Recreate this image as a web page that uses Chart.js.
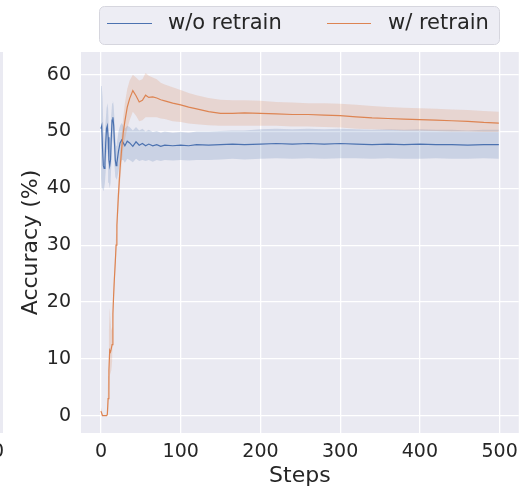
<!DOCTYPE html>
<html>
<head>
<meta charset="utf-8">
<script src="https://cdn.jsdelivr.net/npm/chart.js@4.4.1/dist/chart.umd.min.js"></script>
<style>
  html, body { margin: 0; padding: 0; background: #fff; }
</style>
</head>
<body>
<canvas id="chart" width="526" height="492"></canvas>
<script>
// Steps sampled from the figure (denser where the curves move fast)
const steps = [0, 1, 2, 3, 4, 5, 6, 7, 8, 9, 10, 11, 12, 13, 14, 15, 16, 17, 18, 19, 20,
  22, 24, 26, 28, 30, 33, 36, 40, 44, 48, 52, 56, 60, 65, 70, 75, 80, 90, 100, 110, 120,
  135, 150, 165, 180, 200, 220, 240, 260, 280, 300, 320, 340, 360, 380, 400, 420, 440, 460, 480, 499];

// w/o retrain : mean, lower and upper bound of the band
const woMean = [50.5, 51, 47, 44, 43.5, 44.5, 48, 50.5, 51, 49, 45, 44, 45, 49, 52, 52.5, 51, 48, 45, 44, 44.5,
  46.5, 48, 48.5, 48, 47.5, 48.3, 48.0, 47.4, 48.2, 47.6, 47.9, 47.5, 47.8, 47.5, 47.7, 47.4, 47.6,
  47.5, 47.6, 47.5, 47.7, 47.6, 47.7, 47.8, 47.7,
  47.8, 47.9, 47.8, 47.9, 47.8, 47.9, 47.8, 47.7, 47.8, 47.7, 47.8, 47.7, 47.7, 47.6, 47.7, 47.7];
const woLow = [42, 40, 40, 39.5, 40, 41, 43, 46, 47, 45, 41, 40, 41, 44, 48, 49, 47.5, 44, 42, 41.5, 41.5,
  43, 44.5, 45, 45, 44.5, 45.2, 45, 44.6, 45.2, 44.8, 45, 44.8, 45, 44.7, 45, 44.8, 45,
  44.9, 45, 44.9, 45, 45, 45.1, 45.2, 45.1,
  45.2, 45.3, 45.2, 45.3, 45.2, 45.3, 45.3, 45.2, 45.3, 45.2, 45.2, 45.3, 45.2, 45.2, 45.3, 45.2];
const woHigh = [58, 58, 56, 51, 48, 48, 52, 54, 55, 54, 50, 48.5, 49, 53, 55, 55.5, 54.5, 52, 49, 47.5, 48,
  50, 51, 51.5, 51, 50.5, 51, 50.8, 50.2, 50.8, 50.2, 50.5, 50, 50.3, 49.9, 50.1, 49.8, 50,
  49.8, 49.9, 49.8, 50, 50, 50.1, 50.2, 50.2,
  50.4, 50.5, 50.4, 50.5, 50.4, 50.5, 50.4, 50.3, 50.4, 50.3, 50.4, 50.3, 50.3, 50.2, 50.3, 50.3];

// w/ retrain : mean, lower and upper bound of the band
const wMean = [0.8, 0.4, 0, 0, 0, 0, 0, 0, 0.2, 3, 8, 11.5, 11.2, 11.8, 12.5, 18, 21.5, 24.5, 27, 30, 33.5,
  39, 43.5, 47, 49.8, 51.8, 54.3, 55.8, 57.2, 56.3, 55.2, 55.5, 56.4, 56.0, 56.1, 55.9, 55.6, 55.4,
  55.0, 54.7, 54.3, 54.0, 53.5, 53.2, 53.2, 53.3,
  53.2, 53.1, 53.0, 53.0, 52.9, 52.8, 52.6, 52.4, 52.3, 52.2, 52.1, 52.0, 51.9, 51.8, 51.6, 51.5];
const wLow = [0, 0, 0, 0, 0, 0, 0, 0, 0, 0.5, 4, 7, 7.5, 8, 9.5, 16, 19.5, 22.5, 25, 28, 31,
  36.5, 41, 44.5, 47, 48.5, 50.5, 52, 53.5, 52.8, 51.8, 52, 52.5, 52.5, 52.5, 52.5, 52.3, 52.2,
  51.8, 51.7, 51.4, 51.3, 51.1, 51.0, 51.0, 51.0,
  51.0, 51.0, 50.9, 50.9, 50.8, 50.7, 50.5, 50.4, 50.3, 50.2, 50.2, 50.1, 50.0, 50.0, 49.9, 49.9];
const wHigh = [1.5, 1, 0.3, 0, 0, 0, 0, 0, 0.8, 7, 15, 19, 17, 15, 15.5, 20, 23.5, 26.5, 29, 32, 36,
  41.5, 46, 49.5, 52.5, 55, 57.5, 59, 60, 59.5, 59, 59.2, 60.3, 59.8, 59.5, 59.2, 58.6, 58.3,
  57.8, 57.3, 56.8, 56.4, 55.9, 55.6, 55.5, 55.5,
  55.4, 55.2, 55.1, 55.0, 55.0, 54.9, 54.7, 54.5, 54.3, 54.2, 54.1, 54.0, 53.9, 53.8, 53.6, 53.5];

const xTicks = [0, 100, 200, 300, 400, 500];
const yTicks = [0, 10, 20, 30, 40, 50, 60];
const seriesNames = ['w/o retrain', 'w/ retrain'];

const BLUE = '#4C72B0';
const ORANGE = '#DD8452';
const TEXT = '#262626';
const FONT = 'DejaVu Sans';

const pts = (ys) => steps.map((s, i) => ({ x: s, y: ys[i] }));

// gray plot background + edge of the neighbouring panel on the left
const plotBackground = {
  id: 'plotBackground',
  beforeDraw(chart) {
    const { ctx, chartArea: a } = chart;
    ctx.save();
    ctx.fillStyle = '#EAEAF2';
    ctx.fillRect(a.left, a.top, a.right - a.left, a.bottom - a.top);
    ctx.fillRect(0, a.top, 3, a.bottom - a.top);
    ctx.restore();
  },
  afterDraw(chart) {
    const { ctx } = chart;
    ctx.save();
    ctx.fillStyle = TEXT;
    ctx.font = '19px "' + FONT + '"';
    ctx.textAlign = 'right';
    ctx.textBaseline = 'middle';
    ctx.fillText('0', 4, 452);
    ctx.restore();
  }
};

// legend box drawn above the plot like the seaborn one
const boxLegend = {
  id: 'boxLegend',
  afterDraw(chart) {
    const { ctx } = chart;
    ctx.save();
    ctx.beginPath();
    ctx.roundRect(99.5, 6.5, 400, 38, 5);
    ctx.fillStyle = 'rgba(234,234,242,0.85)';
    ctx.fill();
    ctx.strokeStyle = '#d6d6de';
    ctx.lineWidth = 1;
    ctx.stroke();

    const items = [
      { color: BLUE, x0: 107, x1: 152, tx: 168 },
      { color: ORANGE, x0: 327, x1: 371, tx: 388 }
    ];
    ctx.font = '21px "' + FONT + '"';
    ctx.textBaseline = 'middle';
    ctx.textAlign = 'left';
    items.forEach((it, i) => {
      ctx.beginPath();
      ctx.moveTo(it.x0, 23.5);
      ctx.lineTo(it.x1, 23.5);
      ctx.strokeStyle = it.color;
      ctx.lineWidth = 1.2;
      ctx.stroke();
      ctx.fillStyle = TEXT;
      ctx.fillText(seriesNames[i], it.tx, 24);
    });
    ctx.restore();
  }
};

const bandStyle = { borderWidth: 0, pointRadius: 0, tension: 0 };

new Chart(document.getElementById('chart'), {
  type: 'line',
  data: {
    datasets: [
      { label: 'woLow', data: pts(woLow), fill: false, order: 3, ...bandStyle },
      { label: 'woHigh', data: pts(woHigh), fill: 0, backgroundColor: 'rgba(76,114,176,0.2)', order: 3, ...bandStyle },
      { label: seriesNames[0], data: pts(woMean), borderColor: BLUE, borderWidth: 1.2, pointRadius: 0, fill: false, order: 2 },
      { label: 'wLow', data: pts(wLow), fill: false, order: 1, ...bandStyle },
      { label: 'wHigh', data: pts(wHigh), fill: 3, backgroundColor: 'rgba(221,132,82,0.2)', order: 1, ...bandStyle },
      { label: seriesNames[1], data: pts(wMean), borderColor: ORANGE, borderWidth: 1.2, pointRadius: 0, fill: false, order: 0 }
    ]
  },
  options: {
    responsive: false,
    animation: false,
    layout: { padding: { top: 52, right: 5, bottom: 0, left: 0 } },
    plugins: {
      legend: { display: false },
      tooltip: { enabled: false }
    },
    scales: {
      x: {
        type: 'linear',
        min: -25,
        max: 524,
        afterBuildTicks: (axis) => { axis.ticks = xTicks.map(v => ({ value: v })); },
        afterFit: (axis) => { axis.height = 59; },
        grid: { color: '#ffffff', lineWidth: 1.3, drawTicks: false },
        border: { display: false },
        ticks: { color: TEXT, font: { family: FONT, size: 19 }, padding: 8, maxRotation: 0 },
        title: { display: true, text: 'Steps', color: TEXT, font: { family: FONT, size: 22 }, padding: { top: 0, bottom: 3 } }
      },
      y: {
        min: -3.05,
        max: 64,
        afterBuildTicks: (axis) => { axis.ticks = yTicks.map(v => ({ value: v })); },
        afterFit: (axis) => { axis.width = 81; },
        grid: { color: '#ffffff', lineWidth: 1.3, drawTicks: false },
        border: { display: false },
        ticks: { color: TEXT, font: { family: FONT, size: 19 }, padding: 10 },
        title: { display: true, text: 'Accuracy (%)', color: TEXT, font: { family: FONT, size: 22 }, padding: { top: 18, bottom: 0 } }
      }
    }
  },
  plugins: [plotBackground, boxLegend]
});
</script>
</body>
</html>
